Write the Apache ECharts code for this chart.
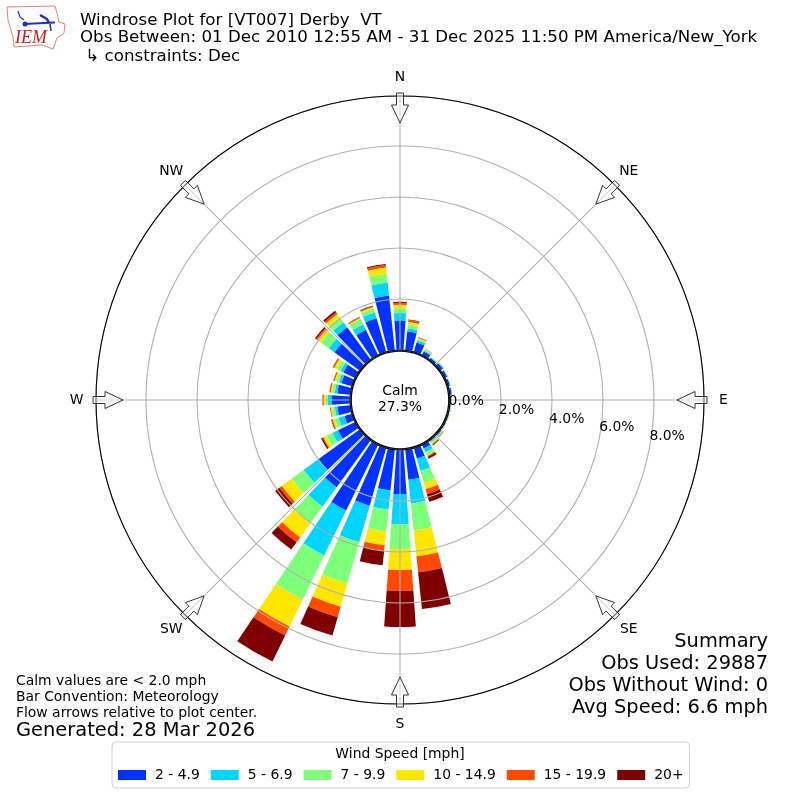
<!DOCTYPE html>
<html><head><meta charset="utf-8">
<style>html,body{margin:0;padding:0;background:#fff}#c{width:800px;height:800px}</style>
<script src="https://cdn.jsdelivr.net/npm/echarts@6/dist/echarts.min.js"></script>
</head><body><div id="c"></div>
<script>
const directions=[0,10,20,30,40,50,60,70,80,90,100,110,120,130,140,150,160,170,180,190,200,210,220,230,240,250,260,270,280,290,300,310,320,330,340,350];
const speedBins=['2 - 4.9','5 - 6.9','7 - 9.9','10 - 14.9','15 - 19.9','20+'];
const binColors=['#0033ff','#00d5ff','#7dff7a','#ffe600','#ff4a00','#7f0000'];
const bin1=[1.14,.75,.39,.16,.08,.12,.10,.08,.08,.04,.03,.03,.04,.05,.04,.16,.43,1.18,1.73,1.61,2.35,2.86,2.27,2.00,.75,.31,.51,.71,.51,.43,.51,1.22,1.57,1.10,1.37,2.16];
const bin2=[.31,.12,.08,.04,.02,.03,.02,.02,.01,.02,.02,.02,.02,.03,.05,.16,.51,.94,1.18,.75,1.49,1.96,.94,.71,.24,.24,.10,.16,.10,.10,.12,.27,.24,.24,.24,.51];
const bin3=[.20,.16,.06,.04,.01,.02,.01,.01,.01,.01,.01,.02,.02,.03,.05,.12,.47,1.06,.98,.86,1.69,1.92,.78,.59,.27,.16,.10,.08,.10,.10,.16,.39,.24,.24,.16,.35];
const bin4=[.12,.08,.04,.02,.01,.01,.01,0,0,0,.01,.01,.01,.02,.04,.04,.27,1.02,.82,.55,.94,1.18,.71,.47,.12,.08,.06,.08,.06,.08,.12,.16,.16,.04,.06,.24];
const bin5=[.08,.08,.02,.02,0,0,0,0,0,0,0,0,0,.01,.03,.04,.20,.63,.82,.20,.43,.39,.24,.12,.04,.04,.02,.04,.04,.04,.04,.06,.08,.04,.04,.10];
const bin6=[.04,.02,.01,0,0,0,0,0,0,0,0,0,0,.01,.03,.08,.31,1.45,1.41,.59,.75,1.14,.35,.20,.06,.02,.01,.01,.01,.01,.02,.06,.08,.01,.02,.04];
const bins=[bin1,bin2,bin3,bin4,bin5,bin6];
const compass=[['N',0],['NE',45],['E',90],['SE',135],['S',180],['SW',225],['W',270],['NW',315]];
const radialTicks=[0,2,4,6,8];
const titleLines=['Windrose Plot for [VT007] Derby  VT','Obs Between: 01 Dec 2010 12:55 AM - 31 Dec 2025 11:50 PM America/New_York',' \u21b3 constraints: Dec'];
const noteLines=['Calm values are < 2.0 mph','Bar Convention: Meteorology','Flow arrows relative to plot center.'];
const summaryLines=['Summary','Obs Used: 29887','Obs Without Wind: 0','Avg Speed: 6.6 mph'];

const CX=400,CY=400,R0=50,R1=304,PER=25.5;
const FONT='"DejaVu Sans"';
const pt=(r,deg)=>{const a=deg*Math.PI/180;return [CX+r*Math.sin(a),CY-r*Math.cos(a)];};
const txt=(x,y,text,size,align,extra)=>Object.assign({type:'text',z:30,silent:true,style:{x,y,text,fill:'#000',font:size+'px '+FONT,textAlign:align||'left',textVerticalAlign:'middle'}},extra||{});

const g=[];
// centre hole
g.push({type:'circle',z:20,silent:true,shape:{cx:CX,cy:CY,r:48.8},style:{fill:'#fff',stroke:'#000',lineWidth:1.3}});
g.push(txt(CX,391.5,'Calm',13.9,'center'));
g.push(txt(CX,407.5,'27.3%',13.9,'center'));
// radial labels
radialTicks.forEach(v=>{const p=pt(R0+v*PER,100);g.push(txt(p[0]+17,p[1]-7.5,v.toFixed(1)+'%',13.9,'center'));});
// compass arrows and labels
compass.forEach(([n,d])=>{
  const P=(r,l)=>{const a=d*Math.PI/180;return [CX+r*Math.sin(a)+l*Math.cos(a),CY-r*Math.cos(a)+l*Math.sin(a)];};
  g.push({type:'polygon',z:25,silent:true,shape:{points:[P(307,-3.5),P(307,3.5),P(295,3.5),P(295,8.5),P(277,0),P(295,-8.5),P(295,-3.5)]},style:{fill:'rgba(255,255,255,0.45)',stroke:'#333',lineWidth:1}});
  const q=pt(323.5,d);
  g.push(txt(q[0],q[1]+0.5,n,13.9,'center'));
});
// titles
titleLines.forEach((t,i)=>g.push(txt(80,[20.5,38,56.5][i],t,16.67)));
noteLines.forEach((t,i)=>g.push(txt(16,[681,697,713][i],t,13.9)));
g.push(txt(16,731,'Generated: 28 Mar 2026',19.45));
summaryLines.forEach((t,i)=>g.push(txt(768,[642,664,686,708][i],t,19.4,'right')));
g.push(txt(400,754,'Wind Speed [mph]',13.9,'center'));
// logo
g.push({type:'polyline',z:30,silent:true,shape:{points:[[7,7],[55,6],[57,13],[59,22],[65,24],[64,33],[57,38],[53,49],[42,45],[14,47],[13,37],[8,20],[7,7]]},style:{stroke:'#e57f7f',fill:'#fff',lineWidth:1}});
g.push({type:'polyline',z:31,silent:true,shape:{points:[[24,24],[55,22.5]]},style:{stroke:'#1a2fd0',lineWidth:2,fill:'none'}});
g.push({type:'polyline',z:31,silent:true,shape:{points:[[40,15],[47,19],[49,23]]},style:{stroke:'#1a2fd0',lineWidth:2.4,fill:'none'}});
g.push({type:'polyline',z:31,silent:true,shape:{points:[[18,11],[20,17],[24,20]]},style:{stroke:'#1a2fd0',lineWidth:1.2,fill:'none'}});
g.push({type:'polyline',z:31,silent:true,shape:{points:[[50,24],[51,31]]},style:{stroke:'#1a2fd0',lineWidth:1.6,fill:'none'}});
g.push({type:'circle',z:31,silent:true,shape:{cx:25,cy:24,r:2.5},style:{fill:'#1a2fd0'}});
g.push({type:'text',z:31,silent:true,style:{x:31,y:38.5,text:'IEM',fill:'#c82020',font:'italic 18px "Liberation Serif"',textAlign:'center',textVerticalAlign:'middle'}});

const chart=echarts.init(document.getElementById('c'),null,{renderer:'canvas',width:800,height:800});
chart.setOption({
  animation:false,
  backgroundColor:'#fff',
  textStyle:{fontFamily:FONT},
  polar:{center:[CX,CY],radius:[R0,R1]},
  angleAxis:{type:'value',min:0,max:360,interval:45,startAngle:90,clockwise:true,z:5,
    axisLine:{show:true,lineStyle:{color:'#000',width:1.1}},axisTick:{show:false},axisLabel:{show:false},
    splitLine:{show:true,lineStyle:{color:'#b0b0b0',width:1.1}}},
  radiusAxis:{type:'value',min:0,max:(R1-R0)/PER,interval:2,z:4,
    axisLine:{show:false},axisTick:{show:false},axisLabel:{show:false},
    splitLine:{show:true,lineStyle:{color:'#b0b0b0',width:1.1}}},
  legend:{left:112,top:742,orient:'horizontal',selectedMode:false,icon:'rect',itemWidth:28,itemHeight:10,itemGap:11,
    padding:[26,6,6,6],borderColor:'#d0d0d0',borderWidth:1,borderRadius:4,backgroundColor:'#fff',
    textStyle:{fontFamily:FONT,fontSize:13.9,color:'#000',padding:[0,0,0,4]},data:speedBins},
  series:bins.map((b,i)=>({name:speedBins[i],type:'bar',coordinateSystem:'polar',stack:'wind',barWidth:'80%',
    itemStyle:{color:binColors[i]},silent:true,z:2,
    data:b.map((v,k)=>[v,directions[k]])})),
  graphic:g
});
</script></body></html>
